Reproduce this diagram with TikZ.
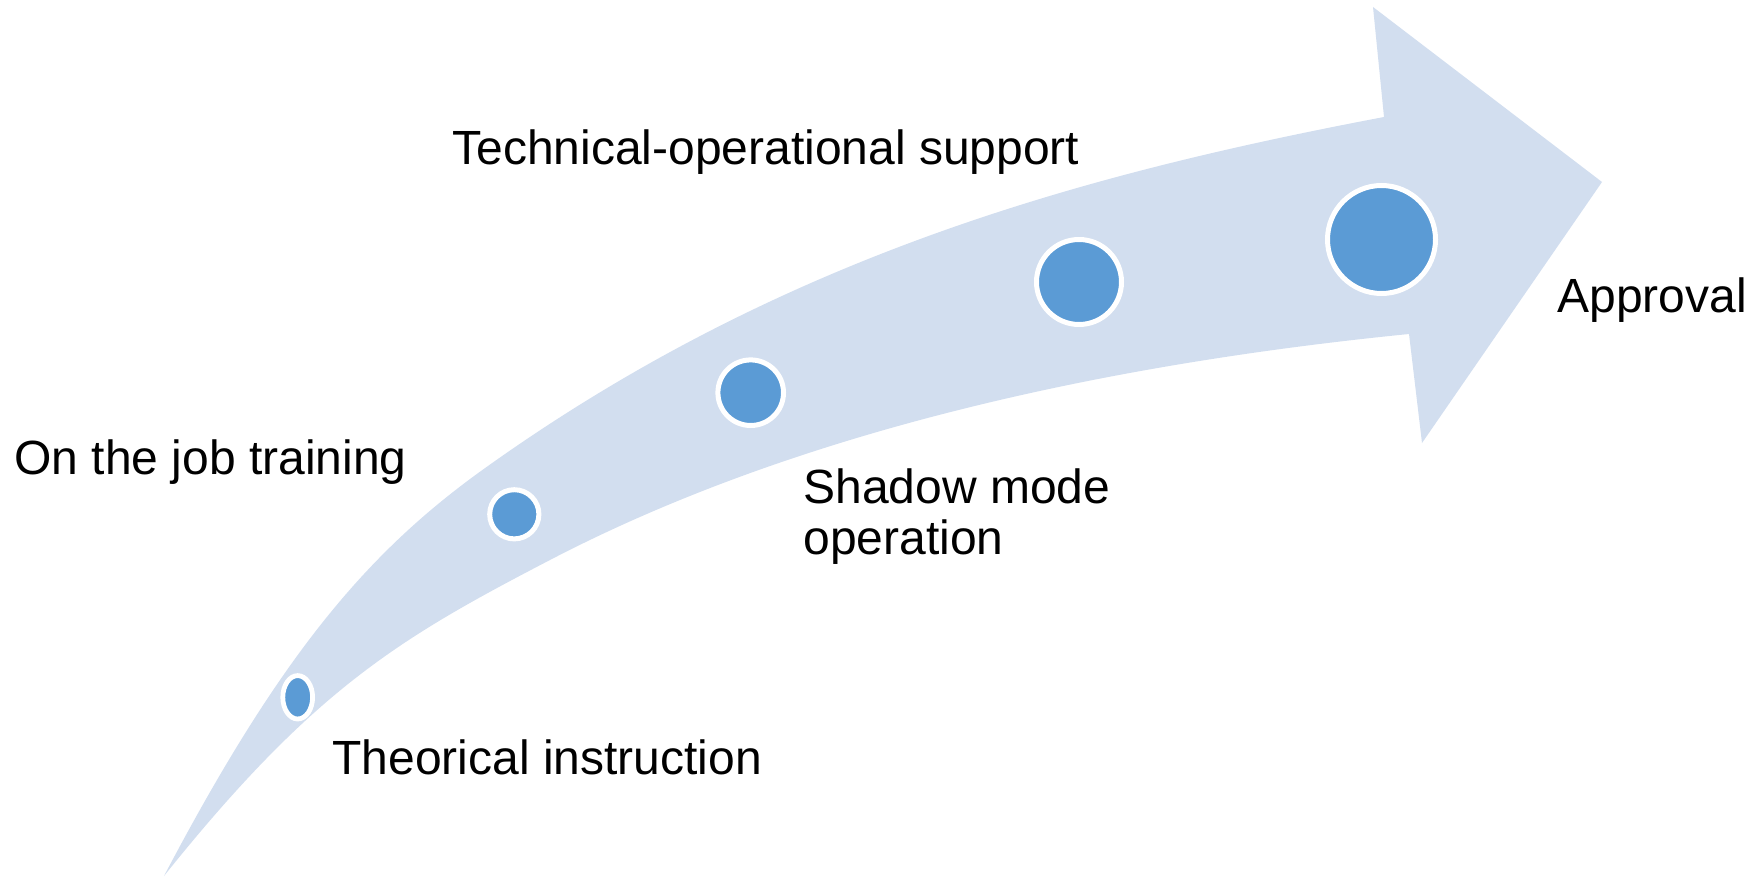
\documentclass[tikz,border=0pt]{standalone}
\usepackage{fontspec}
\setmainfont{Liberation Sans}
\usetikzlibrary{shapes.geometric}
\definecolor{arrowblue}{HTML}{D2DEEF}
\definecolor{dotblue}{HTML}{5B9BD5}
\begin{document}
\begin{tikzpicture}[x=0.5pt,y=-0.5pt,
  dot/.style={circle, fill=dotblue, draw=white, line width=2.5pt, inner sep=0pt},
  lbl/.style={anchor=base west, inner sep=0pt, font=\fontsize{24pt}{25.35pt}\selectfont, text=black}]
\useasboundingbox (0,0) rectangle (1762,877);
\fill[arrowblue] (164,876) .. controls (279,657.5) and (365,554.9) .. (480,471.7)
  .. controls (780,255.7) and (1084,174) .. (1384,117)
  -- (1373,7) -- (1602,182) -- (1422,443) -- (1409,334)
  .. controls (1189,356) and (840,409) .. (550,560)
  .. controls (400,638) and (314,688.5) .. (164,876) -- cycle;
\node[dot, ellipse, minimum width=14.9pt, minimum height=21.7pt, line width=2.4pt] (c1) at (297.7,697.3) {};
\node[dot, minimum size=24.6pt] (c2) at (514.3,514.3) {};
\node[dot, minimum size=32.8pt] (c3) at (750.7,392.7) {};
\node[dot, minimum size=42.5pt] (c4) at (1079,282) {};
\node[dot, minimum size=54pt] (c5) at (1381.5,239.5) {};
\node[lbl] (t1) at (452,164.3) {Technical-operational support};
\node[lbl] (t2) at (14,474.3) {On the job training};
\node[lbl, align=left] (t3) at (803,554) {Shadow mode\\operation};
\node[lbl] (t4) at (332,774.3) {Theorical instruction};
\node[lbl] (t5) at (1557,312.3) {Approval};
\end{tikzpicture}
\end{document}
